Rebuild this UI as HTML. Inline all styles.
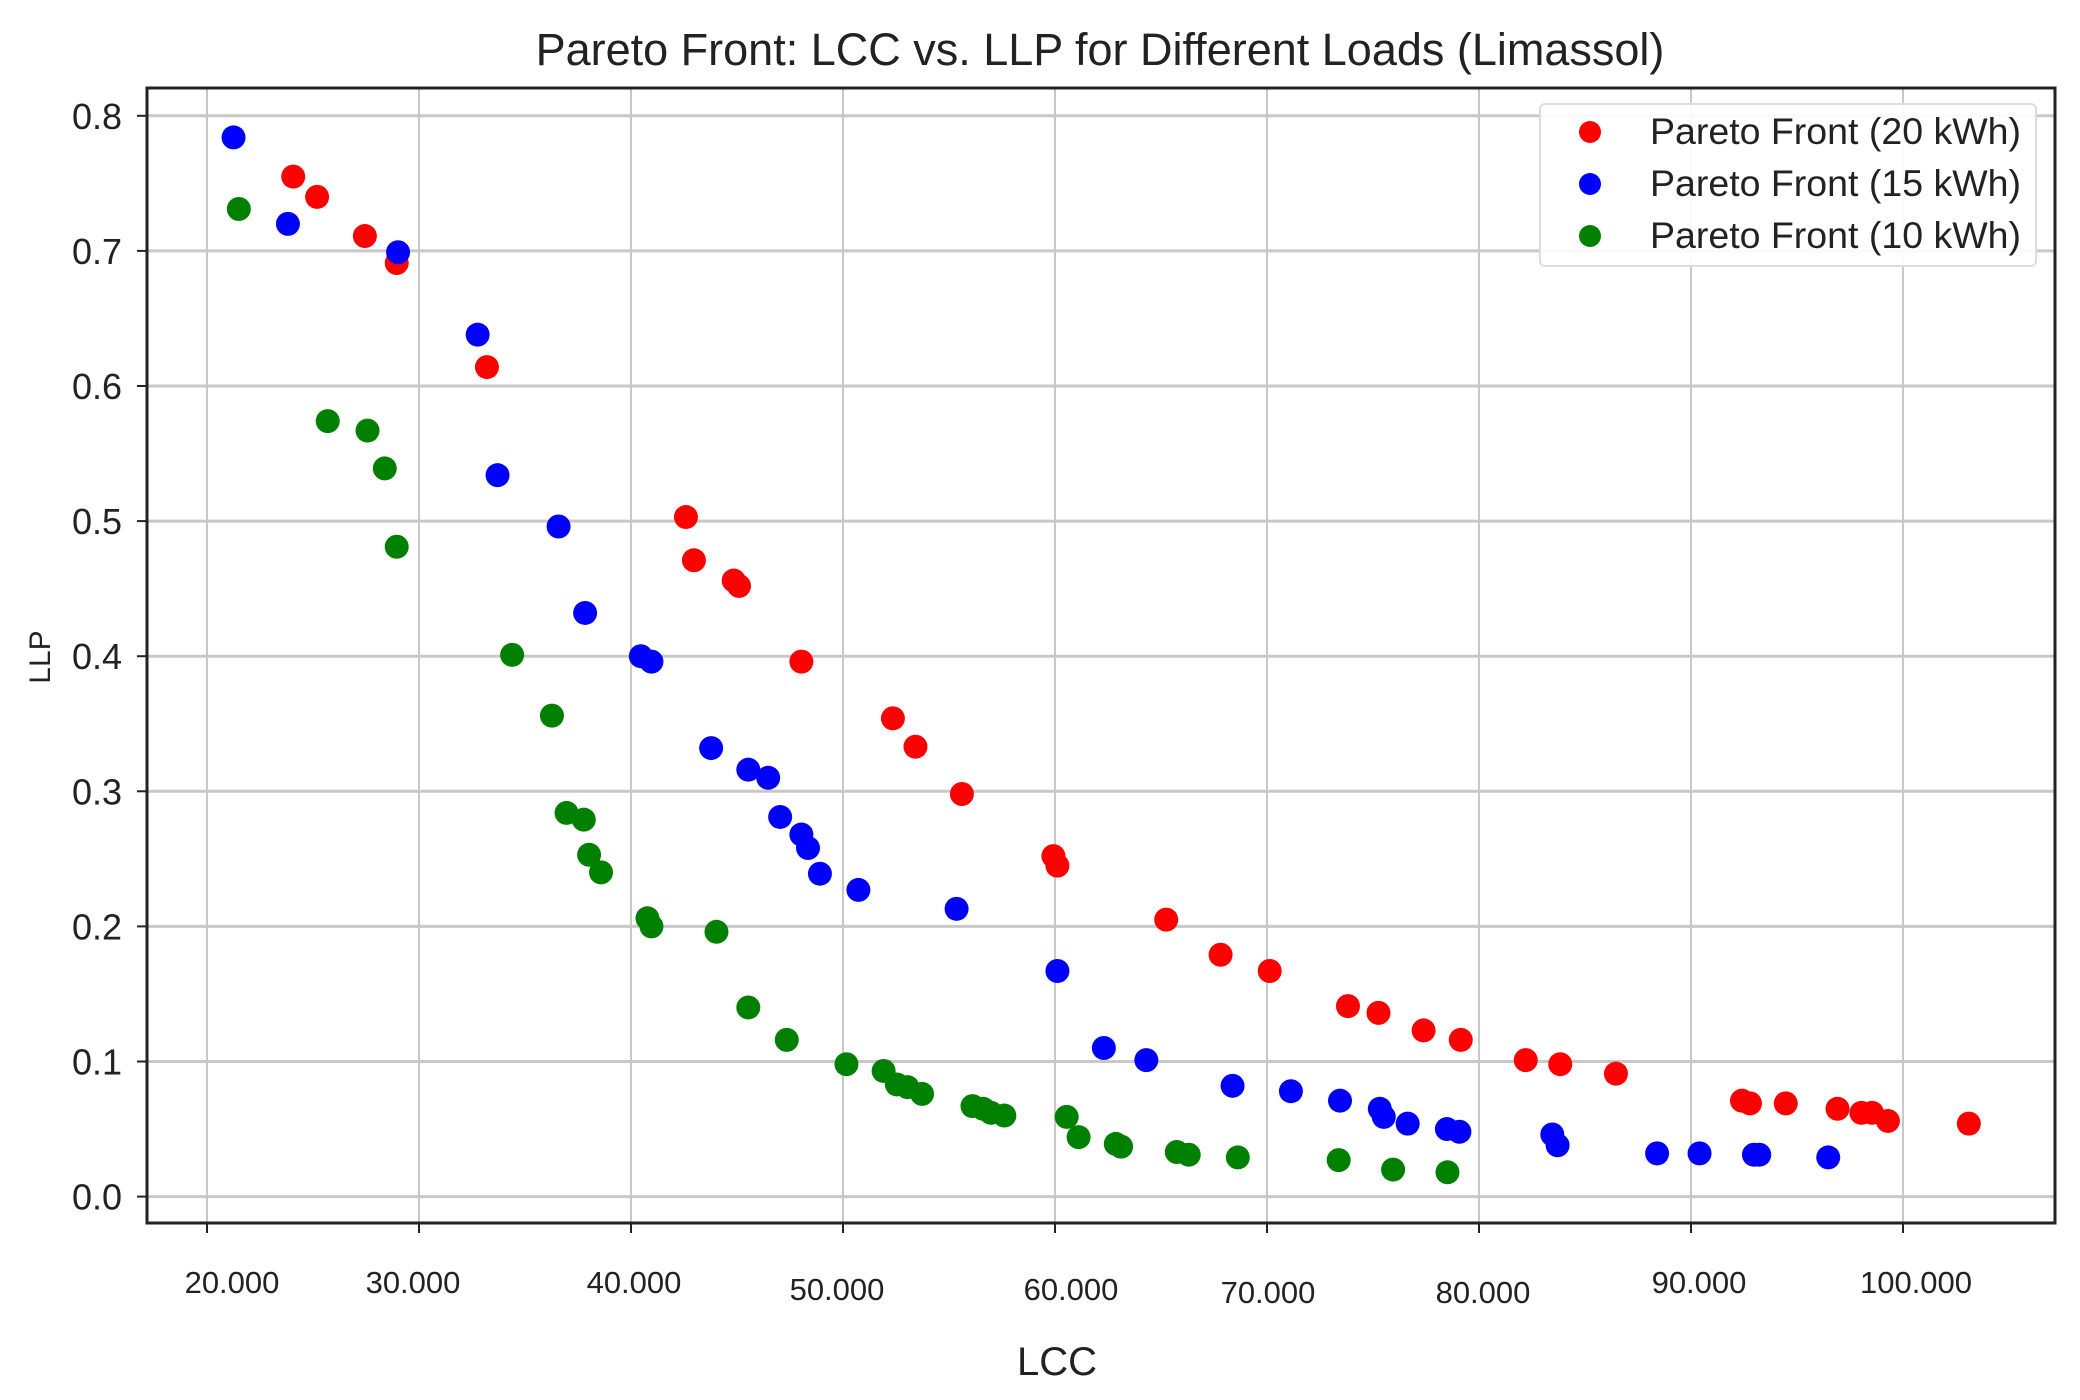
<!DOCTYPE html>
<html><head><meta charset="utf-8"><style>
html,body{margin:0;padding:0;background:#fff}
svg{display:block;font-family:"Liberation Sans","DejaVu Sans",sans-serif}
</style></head><body>
<svg id="chart" width="2080" height="1400" viewBox="0 0 2080 1400">
<text x="1100" y="65" font-size="45" text-anchor="middle" fill="#222">Pareto Front: LCC vs. LLP for Different Loads (Limassol)</text>
<g id="grid"></g>
<g id="marks"></g>
<rect x="147" y="88" width="1908" height="1135" fill="none" stroke="#222" stroke-width="3"/>
<g id="ticks"></g>
<text x="1057" y="1375" font-size="40" text-anchor="middle" fill="#222">LCC</text>
<text transform="translate(50,657) rotate(-90)" font-size="30" text-anchor="middle" fill="#222">LLP</text>
<g>
<rect x="1540" y="104" width="496" height="162" rx="5" fill="#fff" fill-opacity="0.9" stroke="#ddd" stroke-width="2"/>
<circle cx="1590" cy="132" r="11" fill="#ff0000"/>
<text x="1650" y="144" font-size="37.5" fill="#222">Pareto Front (20 kWh)</text>
<circle cx="1590" cy="184" r="11" fill="#0000ff"/>
<text x="1650" y="196" font-size="37.5" fill="#222">Pareto Front (15 kWh)</text>
<circle cx="1590" cy="236" r="11" fill="#008000"/>
<text x="1650" y="248" font-size="37.5" fill="#222">Pareto Front (10 kWh)</text>
</g>
</svg>
<script>
const xTicks=[20000,30000,40000,50000,60000,70000,80000,90000,100000];
const xTickLabels=["20.000","30.000","40.000","50.000","60.000","70.000","80.000","90.000","100.000"];
const yTicks=[0,0.1,0.2,0.3,0.4,0.5,0.6,0.7,0.8];
const yTickLabels=["0.0","0.1","0.2","0.3","0.4","0.5","0.6","0.7","0.8"];
const redX=[24068,25194,27447,28949,33205,42592,42967,44845,45095,48036,52354,53418,55608,59926,60114,65246,67811,70127,73819,75259,77386,79139,82205,83832,86460,92405,92781,94470,96911,98037,98538,99289,103106];
const redY=[.755,.740,.711,.691,.614,.503,.471,.456,.452,.396,.354,.333,.298,.252,.245,.205,.179,.167,.141,.136,.123,.116,.101,.098,.091,.071,.069,.069,.065,.062,.062,.056,.054];
const blueX=[21252,23817,29012,32766,33705,36584,37835,40464,40965,43780,45533,46471,47035,48036,48349,48912,50727,55358,60114,62305,64308,68375,71128,73444,75321,75509,76635,78486,79076,83457,83707,88401,90403,92969,93219,96473];
const blueY=[.784,.720,.699,.638,.534,.496,.432,.400,.396,.332,.316,.310,.281,.268,.258,.239,.227,.213,.167,.110,.101,.082,.078,.071,.065,.059,.054,.050,.048,.046,.038,.032,.032,.031,.031,.029];
const greenX=[21502,25695,27572,28386,28949,34393,36271,36959,37773,38023,38586,40777,40965,44031,45533,47347,50163,51916,52541,53042,53730,56108,56609,56985,57610,60551,61114,62867,63117,65745,66308,68624,73381,75947,78513];
const greenY=[.731,.574,.567,.539,.481,.401,.356,.284,.279,.253,.240,.206,.200,.196,.140,.116,.098,.093,.083,.081,.076,.067,.065,.062,.060,.059,.044,.039,.037,.033,.031,.029,.027,.020,.018];
const NS="http://www.w3.org/2000/svg";
function X(v){return 207+(v-20000)/10000*212;}
function Y(v){return 1196.6-v*1351;}
const grid=document.getElementById('grid'),ticks=document.getElementById('ticks'),marks=document.getElementById('marks');
const xLabelDy=[0,0,0,7,7,10,10,0,0];
const xLabelDx=[25,-6,3,-6,16,1,4,8,13];
xTicks.forEach((t,i)=>{
  const l=document.createElementNS(NS,'line');
  l.setAttribute('x1',X(t));l.setAttribute('x2',X(t));l.setAttribute('y1',88);l.setAttribute('y2',1223);
  l.setAttribute('stroke','#c8c8c8');l.setAttribute('stroke-width','2');
  
  
  grid.appendChild(l);
  const tk=document.createElementNS(NS,'line');
  tk.setAttribute('x1',X(t));tk.setAttribute('x2',X(t));tk.setAttribute('y1',1223);tk.setAttribute('y2',1233);
  tk.setAttribute('stroke','#222');tk.setAttribute('stroke-width','2');
  
  
  ticks.appendChild(tk);
  const tx=document.createElementNS(NS,'text');
  tx.setAttribute('x',X(t)+xLabelDx[i]);tx.setAttribute('y',1293+xLabelDy[i]);
  tx.setAttribute('font-size','31');tx.setAttribute('text-anchor','middle');tx.setAttribute('fill','#222');
  tx.textContent=xTickLabels[i];
  
  
  ticks.appendChild(tx);
});
yTicks.forEach((t,i)=>{
  const l=document.createElementNS(NS,'line');
  l.setAttribute('x1',147);l.setAttribute('x2',2055);l.setAttribute('y1',Y(t));l.setAttribute('y2',Y(t));
  l.setAttribute('stroke','#c8c8c8');l.setAttribute('stroke-width','3');
  
  
  grid.appendChild(l);
  const tk=document.createElementNS(NS,'line');
  tk.setAttribute('x1',137);tk.setAttribute('x2',147);tk.setAttribute('y1',Y(t));tk.setAttribute('y2',Y(t));
  tk.setAttribute('stroke','#222');tk.setAttribute('stroke-width','2');
  
  
  ticks.appendChild(tk);
  const tx=document.createElementNS(NS,'text');
  tx.setAttribute('x',122);tx.setAttribute('y',Y(t)+13);
  tx.setAttribute('font-size','36');tx.setAttribute('text-anchor','end');tx.setAttribute('fill','#222');
  tx.textContent=yTickLabels[i];
  
  
  ticks.appendChild(tx);
});
function series(xs,ys,color,name){
  xs.forEach((x,i)=>{
    const c=document.createElementNS(NS,'circle');
    c.setAttribute('cx',X(x));c.setAttribute('cy',Y(ys[i]));c.setAttribute('r','12');c.setAttribute('fill',color);
    
    
    marks.appendChild(c);
  });
}
series(redX,redY,'#ff0000','point-20kwh');
series(blueX,blueY,'#0000ff','point-15kwh');
series(greenX,greenY,'#008000','point-10kwh');
</script>
</body></html>
